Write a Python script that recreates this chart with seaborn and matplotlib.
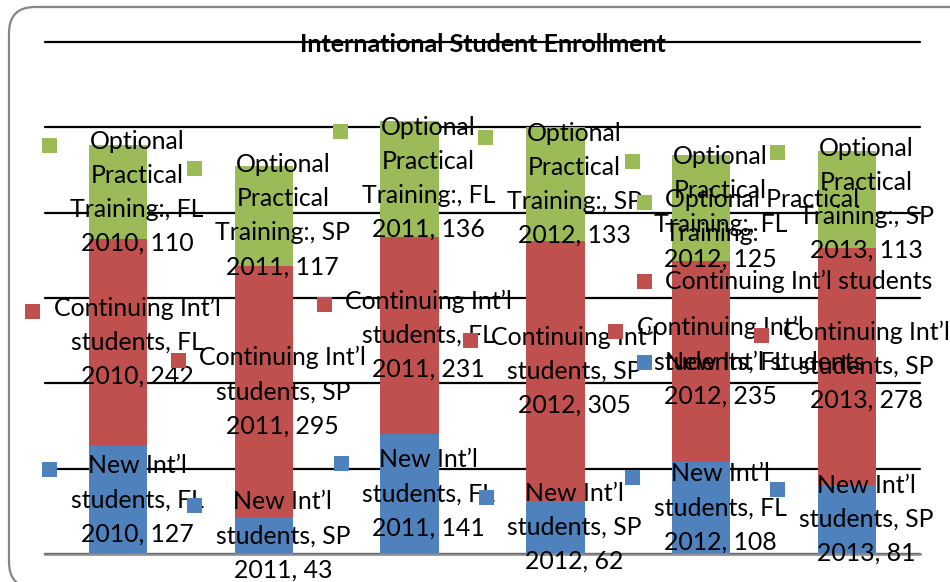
import numpy as np
import pandas as pd
import seaborn as sns
import matplotlib.pyplot as plt
from matplotlib.patches import FancyBboxPatch, Rectangle
from matplotlib.transforms import IdentityTransform

# ----------------------------
# Data
# ----------------------------
terms = ["FL", "SP", "FL", "SP", "FL", "SP"]
years = ["2010", "2011", "2011", "2012", "2012", "2013"]
new_students = [127, 43, 141, 62, 108, 81]
continuing = [242, 295, 231, 305, 235, 278]
opt_training = [110, 117, 136, 133, 125, 113]

series_names = ["New Int’l students", "Continuing Int’l students", "Optional Practical Training:"]
series_wrapped = ["New Int’l\nstudents", "Continuing Int’l\nstudents", "Optional\nPractical\nTraining:"]
colors = ["#4F81BD", "#C0504D", "#9BBB59"]

categories = [f"{t} {y}" for t, y in zip(terms, years)]
df = pd.DataFrame({"term": categories, "new": new_students,
                   "cont": continuing, "opt": opt_training})
df["cum_new"] = df["new"]
df["cum_cont"] = df["new"] + df["cont"]
df["cum_opt"] = df["cum_cont"] + df["opt"]

# ----------------------------
# Style
# ----------------------------
sns.set_theme(style="white")
plt.rcParams["font.family"] = ["Lato", "DejaVu Sans"]

W, H = 950, 582
FS = 17.9
LS = 1.58
fig = plt.figure(figsize=(W / 100, H / 100), dpi=100)
ax = fig.add_axes([45 / W, 1 - 554 / H, 875 / W, 512 / H])

# stacked bars: draw totals first, then overlay the lower parts
for col, c in zip(["cum_opt", "cum_cont", "cum_new"], colors[::-1]):
    sns.barplot(data=df, x="term", y=col, color=c, width=0.4,
                saturation=1, linewidth=0, ax=ax, zorder=2)

ax.set_ylim(0, 600)
ax.set_yticks(range(0, 700, 100))
ax.yaxis.grid(True, color="black", linewidth=1.6)
for gl in ax.get_ygridlines():
    gl.set_clip_on(False)
ax.set_axisbelow(True)
ax.tick_params(left=False, bottom=False, labelleft=False, labelbottom=False)
ax.set_xlabel("")
ax.set_ylabel("")
for s in ["left", "right", "top"]:
    ax.spines[s].set_visible(False)
ax.spines["bottom"].set_color("#8c8c8c")
ax.spines["bottom"].set_linewidth(1.8)

# title sits on the top gridline
ax.annotate("International Student Enrollment", xy=(0.5, 1.0), xycoords="axes fraction",
            xytext=(0, -2), textcoords="offset points", ha="center", va="center",
            fontsize=18, fontweight="bold", color="black", zorder=5)

# ----------------------------
# Data labels with legend keys
# ----------------------------
labels = []
segments = [(df["new"], df["new"] / 2),
            (df["cont"], df["new"] + df["cont"] / 2),
            (df["opt"], df["cum_cont"] + df["opt"] / 2)]
for k, (vals, mids) in enumerate(segments):
    for i in range(len(df)):
        txt = f"{series_wrapped[k]}, {terms[i]}\n{years[i]}, {vals[i]}"
        t = ax.annotate(txt, xy=(i, mids[i]), xytext=(13.7, 0), textcoords="offset points",
                        ha="center", va="center", multialignment="center",
                        fontsize=FS, linespacing=LS, color="black", zorder=6,
                        annotation_clip=False)
        labels.append((t, colors[k], txt.count("\n") + 1))

# leftover legend entries overlapping the FL 2012 bar
legend_items = [("Optional Practical\nTraining:", colors[2], 202),
                ("Continuing Int’l students", colors[1], 281),
                ("New Int’l students", colors[0], 362)]
for text, c, py in legend_items:
    t = fig.text(665 / W, 1 - py / H, text, ha="left", va="top", fontsize=FS,
                 linespacing=LS, color="black", zorder=6)
    labels.append((t, c, text.count("\n") + 1))

fig.canvas.draw()
for t, c, n in labels:
    bb = t.get_window_extent()
    if t.get_va() == "top":
        # shift so first line centre sits at the requested y
        pitch = bb.height / n
        t.set_y(t.get_position()[1] + (pitch / 2) / H)
        fig.canvas.draw()
        bb = t.get_window_extent()
    pitch = bb.height / n
    cx = bb.x0 - 21
    cy = bb.y1 - pitch / 2
    fig.add_artist(Rectangle((cx - 7.5, cy - 7.5), 15, 15, transform=IdentityTransform(),
                             facecolor=c, edgecolor="none", zorder=7))

# rounded chart border
fig.add_artist(FancyBboxPatch((9, -6), 1000, H + 6 - 6 - 1, boxstyle="round,pad=0,rounding_size=26",
                              transform=IdentityTransform(), facecolor="none",
                              edgecolor="#868686", linewidth=1.6, zorder=0))

fig.savefig("out.png", dpi=100)
